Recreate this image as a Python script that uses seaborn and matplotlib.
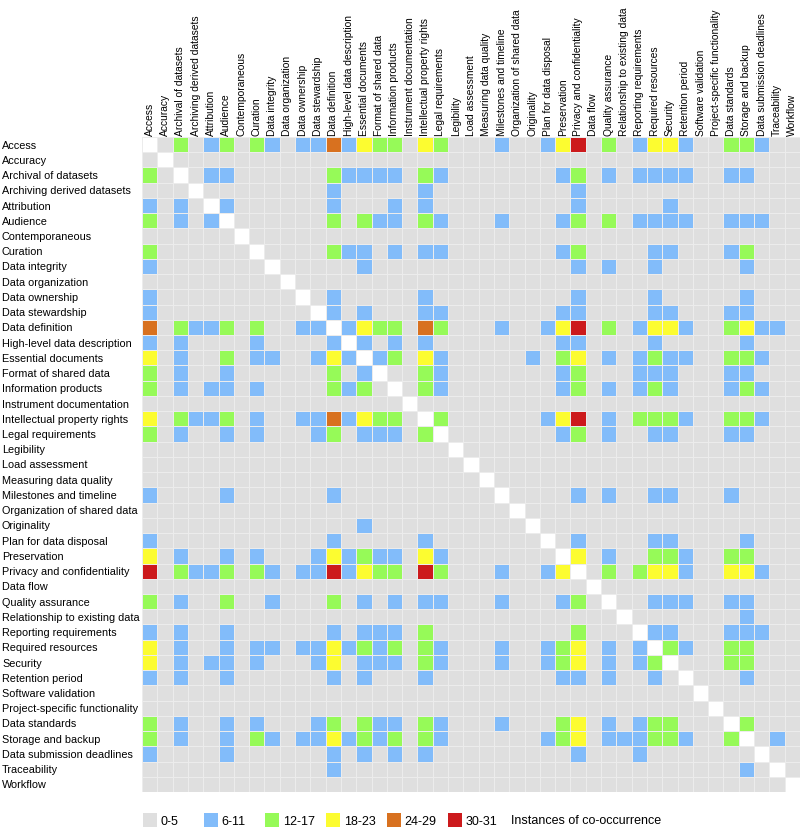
import numpy as np
import pandas as pd
import seaborn as sns
import matplotlib.pyplot as plt
from matplotlib.colors import ListedColormap
from matplotlib.patches import Patch

categories = [
    "Access", "Accuracy", "Archival of datasets", "Archiving derived datasets",
    "Attribution", "Audience", "Contemporaneous", "Curation", "Data integrity",
    "Data organization", "Data ownership", "Data stewardship", "Data definition",
    "High-level data description", "Essential documents", "Format of shared data",
    "Information products", "Instrument documentation", "Intellectual property rights",
    "Legal requirements", "Legibility", "Load assessment", "Measuring data quality",
    "Milestones and timeline", "Organization of shared data", "Originality",
    "Plan for data disposal", "Preservation", "Privacy and confidentiality",
    "Data flow", "Quality assurance", "Relationship to existing data",
    "Reporting requirements", "Required resources", "Security", "Retention period",
    "Software validation", "Project-specific functionality", "Data standards",
    "Storage and backup", "Data submission deadlines", "Traceability", "Workflow",
]

bin_labels = ["0-5", "6-11", "12-17", "18-23", "24-29", "30-31"]
bin_colors = ["#dfdfdf", "#82bcfa", "#96fa58", "#fcfc30", "#d8711f", "#cc1a1c"]

# bin index of co-occurrence for each pair (0 -> 0-5 ... 5 -> 30-31), '-' = diagonal
rows = [
    "-020120210" "1141322032" "0001001350" "2013310022" "100",
    "0-00000000" "0000000000" "0000000000" "0000000000" "000",
    "20-0110000" "0021111021" "0000000120" "1011110011" "000",
    "000-000000" "0010000010" "0000000010" "0000000000" "000",
    "1010-10000" "0010001010" "0000000010" "0000100000" "000",
    "20101-0000" "0020211021" "0001000120" "2011110011" "100",
    "000000-000" "0000000000" "0000000000" "0000000000" "000",
    "2000000-00" "0021101011" "0000000120" "0001100012" "000",
    "10000000-0" "0000100000" "0000000010" "1001000001" "000",
    "000000000-" "0000000000" "0000000000" "0000000000" "000",
    "1000000000" "-010000010" "0000000010" "0001000001" "000",
    "1000000000" "0-10100011" "0000000110" "0001100011" "000",
    "4021120200" "11-1322042" "0001001350" "2013310023" "110",
    "1010000100" "001-101010" "0000000110" "0001000001" "000",
    "3010020110" "0131-12031" "0000010230" "1012110022" "100",
    "2010010000" "00201-0021" "0000000120" "0011100011" "000",
    "2010110100" "002120-021" "0000000120" "1012100012" "100",
    "0000000000" "0000000-00" "0000000000" "0000000000" "000",
    "3021120100" "11413220-2" "0000001350" "1022210022" "100",
    "2010010100" "012011102-" "0000000120" "1001100011" "000",
    "0000000000" "0000000000" "-000000000" "0000000000" "000",
    "0000000000" "0000000000" "0-00000000" "0000000000" "000",
    "0000000000" "0000000000" "00-0000000" "0000000000" "000",
    "1000010000" "0010000000" "000-000010" "1001100010" "000",
    "0000000000" "0000000000" "0000-00000" "0000000000" "000",
    "0000000000" "0000100000" "00000-0000" "0000000000" "000",
    "1000000000" "0010000010" "000000-010" "0001100001" "000",
    "3010010100" "0131211031" "0000000-30" "1002210022" "000",
    "5021120210" "1151322052" "00010013-0" "2023310033" "100",
    "0000000000" "0000000000" "000000000-" "0000000000" "000",
    "2010020010" "0020101011" "0001000120" "-001110011" "000",
    "0000000000" "0000000000" "0000000000" "0-00000001" "000",
    "1010010000" "0010111020" "0000000020" "00-1100011" "100",
    "3010010110" "1131212021" "0001001230" "101-210022" "000",
    "3010110100" "0130111021" "0001001230" "1012-00022" "000",
    "1010010000" "0010100010" "0000000110" "10010-0001" "000",
    "0000000000" "0000000000" "0000000000" "000000-000" "000",
    "0000000000" "0000000000" "0000000000" "0000000-00" "000",
    "2010010100" "0120211021" "0001000230" "10122000-2" "000",
    "2010010210" "1131212021" "0000001230" "111221002-" "010",
    "1000010000" "0010101010" "0000000010" "0010000000" "-00",
    "0000000000" "0010000000" "0000000000" "0000000001" "0-0",
    "0000000000" "0000000000" "0000000000" "0000000000" "00-",
]

plt.rcParams["font.family"] = ["Liberation Sans Narrow", "Liberation Sans", "DejaVu Sans"]

levels = np.array([[np.nan if c == "-" else int(c) for c in r] for r in rows])
df = pd.DataFrame(levels, index=categories, columns=categories)

W, H = 800, 828
fig = plt.figure(figsize=(W / 100, H / 100), dpi=100)
ax = fig.add_axes([142 / W, 1 - 793 / H, 658 / W, 655 / H])

sns.heatmap(df, cmap=ListedColormap(bin_colors), vmin=-0.5, vmax=5.5, cbar=False,
            linewidths=0.4, linecolor="#ececec", xticklabels=True, yticklabels=True, ax=ax)

# column names on top, reading upwards
ax.xaxis.tick_top()
ax.tick_params(axis="x", length=0, pad=1.5, labelsize=7.4, labelrotation=90)
for lab in ax.get_xticklabels():
    lab.set_ha("center")
    lab.set_va("bottom")

# row names left aligned at the figure edge
ax.tick_params(axis="y", length=0, pad=140 * 72 / 100, labelsize=7.8, labelrotation=0)
for lab in ax.get_yticklabels():
    lab.set_ha("left")

# legend: one fixed-width slot per bin
fs = 9
for i, (lab, col) in enumerate(zip(bin_labels, bin_colors)):
    fig.legend([Patch(facecolor=col, edgecolor="none")], [lab], loc="lower left",
               bbox_to_anchor=((143 + 61 * i) / W, 0.0), frameon=False, fontsize=fs,
               handlelength=1.12, handleheight=1.3, handletextpad=0.3,
               borderaxespad=0.0, borderpad=0.0)
fig.text((143 + 61 * 6 + 2) / W, 1 - 821 / H, "Instances of co-occurrence",
         fontsize=fs, va="center", ha="left")

fig.savefig("out.png", dpi=100)
